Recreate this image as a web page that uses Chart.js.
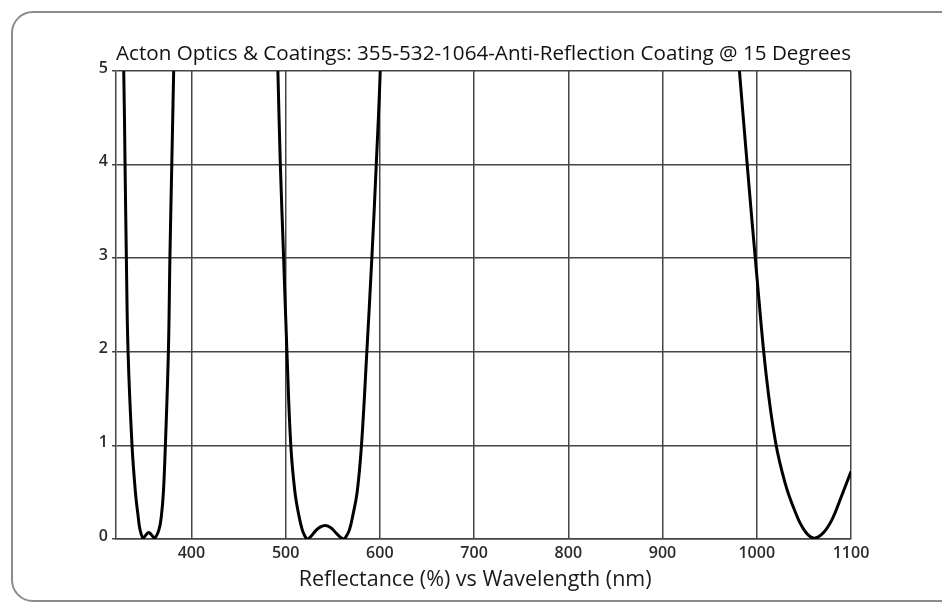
<!DOCTYPE html>
<html>
<head>
<meta charset="utf-8">
<script src="https://cdn.jsdelivr.net/npm/chart.js@4.4.1/dist/chart.umd.min.js"></script>
<style>
  html, body { margin: 0; padding: 0; background: #fff; overflow: hidden; }
  #wrap { position: relative; width: 942px; height: 602px; }
  #frame {
    position: absolute; left: 11px; top: 11px; width: 960px; height: 587px;
    border: 2px solid #8c8c8c; border-radius: 22px; box-sizing: content-box;
  }
  #chart { position: absolute; left: 0; top: 0; }
</style>
</head>
<body>
<div id="wrap">
  <div id="frame"></div>
  <canvas id="chart" width="942" height="602"></canvas>
</div>
<script>
// ---- data ----
// wavelength (nm) / reflectance (%); values above 5 are off the top of the plot
const wavelength = [
  320, 325, 328.2, 329.6, 331, 332.8, 337, 340.6, 343.4, 345.5, 348.7, 351.5, 354.7, 358, 361, 365.6, 368.2, 370.3, 372.4, 375.6, 377.2, 379.2, 381.2, 383.5,
  436, 488.5,
  491.8, 494.4, 497.9, 501.4, 505.5, 509.9, 514.1, 517.6, 520.5, 523, 527, 532, 537, 542.4, 548, 553, 558, 561.8, 565, 567.8, 571.3, 575.9, 580.5, 586.2, 591.5, 596.2, 600.4, 603.5,
  790, 960, 970,
  980, 990, 1000, 1010, 1020, 1030, 1040, 1050, 1060, 1070, 1080, 1090, 1100
];
const reflectance = [
  9, 6.3, 5.0, 4.0, 3.0, 2.0, 1.0, 0.5, 0.25, 0.1, 0.01, 0.04, 0.07, 0.04, 0.01, 0.1, 0.25, 0.5, 1.0, 2.0, 3.0, 4.0, 5.0, 6.3,
  14, 6.3,
  5.0, 4.0, 3.0, 2.0, 1.0, 0.5, 0.25, 0.1, 0.03, 0.0, 0.03, 0.09, 0.13, 0.145, 0.12, 0.07, 0.02, 0.0, 0.04, 0.1, 0.25, 0.5, 1.0, 2.0, 3.0, 4.0, 5.0, 6.3,
  30, 7.7, 6.45,
  5.2, 3.98, 2.82, 1.75, 1.03, 0.6, 0.31, 0.1, 0.01, 0.06, 0.21, 0.46, 0.72
];
const xTickValues = [400, 500, 600, 700, 800, 900, 1000, 1100];
const yTickValues = [0, 1, 2, 3, 4, 5];

const titleText = 'Acton Optics & Coatings: 355-532-1064-Anti-Reflection Coating @ 15 Degrees';
const xTitleText = 'Reflectance (%) vs Wavelength (nm)';

const points = wavelength.map((w, i) => ({ x: w, y: reflectance[i] }));
const gridColor = '#454545';
const fontFamily = '"Open Sans", "Noto Sans", sans-serif';

new Chart(document.getElementById('chart'), {
  type: 'line',
  data: {
    datasets: [{
      data: points,
      borderColor: '#000',
      borderWidth: 3,
      pointRadius: 0,
      tension: 0.4,
      fill: false
    }]
  },
  options: {
    responsive: false,
    animation: false,
    devicePixelRatio: 1,
    layout: { padding: { left: 0, right: 91, top: 0, bottom: 0 } },
    plugins: {
      legend: { display: false },
      tooltip: { enabled: false },
      title: {
        display: true,
        text: titleText,
        fullSize: false,
        color: '#111',
        font: { family: fontFamily, size: 20.8, weight: 'normal', lineHeight: 1.2 },
        padding: { top: 42, bottom: 4 }
      }
    },
    scales: {
      x: {
        type: 'linear',
        min: 320,
        max: 1100,
        afterBuildTicks: (scale) => { scale.ticks = xTickValues.map(v => ({ value: v })); },
        afterFit: (scale) => { scale.height = 63; },
        grid: { color: gridColor, lineWidth: 1.5, drawTicks: false },
        border: { display: true, color: gridColor, width: 1.5 },
        ticks: {
          color: '#2b2b2b',
          padding: 5,
          maxRotation: 0,
          callback: (v) => String(v),
          font: { family: fontFamily, size: 16, weight: '600' }
        },
        title: {
          display: true,
          // trailing spaces nudge the centred title a little to the left, as in the original
          text: xTitleText + '   ',
          color: '#1a1a1a',
          font: { family: fontFamily, size: 21.5, lineHeight: 1.2 },
          padding: { top: 0, bottom: 9 }
        }
      },
      y: {
        type: 'linear',
        min: 0,
        max: 5,
        afterBuildTicks: (scale) => { scale.ticks = yTickValues.map(v => ({ value: v })); },
        afterFit: (scale) => { scale.width = 116; },
        grid: { color: gridColor, lineWidth: 1.5, drawTicks: true, tickLength: 4 },
        border: { display: true, color: gridColor, width: 1.5 },
        ticks: {
          color: '#2b2b2b',
          padding: 4,
          labelOffset: -3,
          font: { family: fontFamily, size: 16, weight: '600' }
        }
      }
    }
  }
});
</script>
</body>
</html>
